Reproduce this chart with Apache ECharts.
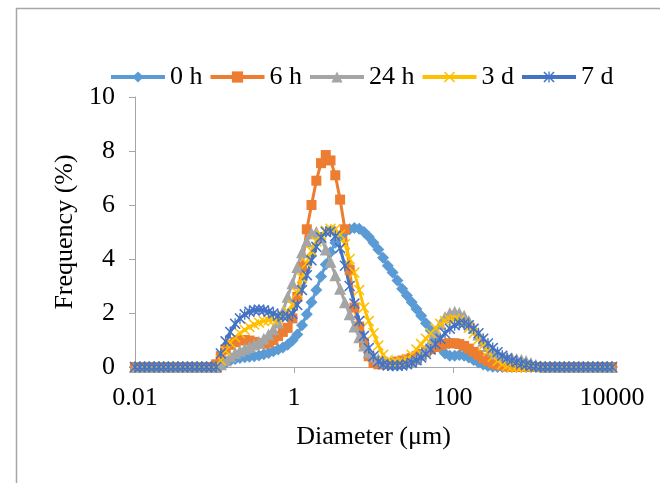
<!DOCTYPE html>
<html><head><meta charset="utf-8">
<script src="https://cdn.jsdelivr.net/npm/echarts@6/dist/echarts.min.js"></script>
<style>html,body{margin:0;padding:0;background:#fff}#c{width:660px;height:483px}</style>
</head><body><div id="c"></div>
<script>
// particle diameters (µm), 101 log-spaced size classes
const sizes = [
  0.01, 0.0115, 0.0132, 0.0151, 0.0174, 0.02, 0.0229, 0.0263, 0.0302, 0.0347,
  0.0398, 0.0457, 0.0525, 0.0603, 0.0692, 0.0794, 0.0912, 0.105, 0.12, 0.138,
  0.158, 0.182, 0.209, 0.24, 0.275, 0.316, 0.363, 0.417, 0.479, 0.55,
  0.631, 0.724, 0.832, 0.955, 1.1, 1.26, 1.45, 1.66, 1.91, 2.19,
  2.51, 2.88, 3.31, 3.8, 4.37, 5.01, 5.75, 6.61, 7.59, 8.71,
  10, 11.5, 13.2, 15.1, 17.4, 20, 22.9, 26.3, 30.2, 34.7,
  39.8, 45.7, 52.5, 60.3, 69.2, 79.4, 91.2, 105, 120, 138,
  158, 182, 209, 240, 275, 316, 363, 417, 479, 550,
  631, 724, 832, 955, 1100, 1260, 1450, 1660, 1910, 2190,
  2510, 2880, 3310, 3800, 4370, 5010, 5750, 6610, 7590, 8710,
  10000
];
const seriesNames = ['0 h', '6 h', '24 h', '3 d', '7 d'];
const s0h = [
  0,0,0,0,0,0,0,0,0,0,
  0,0,0,0,0,0,0,0,0.05,0.15,
  0.24,0.3,0.33,0.36,0.38,0.4,0.43,0.47,0.52,0.58,
  0.65,0.72,0.82,0.98,1.2,1.55,1.95,2.4,2.85,3.35,
  3.8,4.25,4.6,4.85,5.0,5.1,5.15,5.12,5.0,4.82,
  4.6,4.35,4.05,3.75,3.5,3.2,2.9,2.65,2.4,2.15,
  1.9,1.62,1.35,1.0,0.7,0.5,0.42,0.42,0.44,0.42,
  0.35,0.26,0.17,0.09,0.04,0.01,0,0,0,0,
  0,0,0,0,0,0,0,0,0,0,
  0,0,0,0,0,0,0,0,0,0,
  0
];
const s6h = [
  0,0,0,0,0,0,0,0,0,0,
  0,0,0,0,0,0,0,0.1,0.4,0.65,
  0.82,0.92,0.98,1.0,0.98,0.93,0.88,0.86,0.9,1.0,
  1.15,1.3,1.45,1.8,2.6,3.7,5.1,6.0,6.9,7.55,
  7.85,7.65,7.1,6.2,5.1,3.6,2.2,1.5,0.9,0.4,
  0.15,0.1,0.1,0.12,0.15,0.2,0.24,0.28,0.33,0.4,
  0.48,0.57,0.66,0.74,0.81,0.86,0.88,0.88,0.85,0.78,
  0.68,0.56,0.44,0.32,0.22,0.14,0.08,0.04,0.02,0,
  0,0,0,0,0,0,0,0,0,0,
  0,0,0,0,0,0,0,0,0,0,
  0
];
const s24h = [
  0,0,0,0,0,0,0,0,0,0,
  0,0,0,0,0,0,0,0,0.1,0.25,
  0.4,0.52,0.6,0.68,0.75,0.83,0.93,1.05,1.2,1.4,
  1.65,2.05,2.6,3.1,3.7,4.25,4.65,4.95,5.0,4.8,
  4.35,3.9,3.4,2.9,2.4,1.95,1.5,1.1,0.8,0.55,
  0.4,0.3,0.22,0.18,0.16,0.15,0.16,0.18,0.22,0.3,
  0.45,0.68,0.95,1.3,1.6,1.85,2.0,2.05,2.0,1.9,
  1.7,1.45,1.2,0.97,0.78,0.6,0.48,0.4,0.35,0.32,
  0.3,0.27,0.22,0.15,0.08,0.03,0,0,0,0,
  0,0,0,0,0,0,0,0,0,0,
  0
];
const s3d = [
  0,0,0,0,0,0,0,0,0,0,
  0,0,0,0,0,0,0,0,0.25,0.6,
  0.9,1.1,1.25,1.38,1.48,1.57,1.64,1.7,1.73,1.75,
  1.8,1.9,2.05,2.3,2.75,3.3,3.85,4.3,4.65,4.9,
  5.05,5.12,5.1,4.9,4.55,4.0,3.5,2.85,2.2,1.7,
  1.25,0.8,0.45,0.25,0.15,0.15,0.2,0.3,0.45,0.65,
  0.85,1.05,1.25,1.45,1.6,1.7,1.75,1.77,1.73,1.62,
  1.45,1.25,1.02,0.8,0.58,0.38,0.22,0.1,0.04,0,
  0,0,0,0,0,0,0,0,0,0,
  0,0,0,0,0,0,0,0,0,0,
  0
];
const s7d = [
  0,0,0,0,0,0,0,0,0,0,
  0,0,0,0,0,0,0,0,0.5,0.95,
  1.3,1.6,1.8,1.95,2.05,2.1,2.12,2.1,2.05,1.98,
  1.9,1.87,1.88,1.97,2.3,2.85,3.4,3.95,4.45,4.8,
  5.0,5.02,4.85,4.4,3.75,3.0,2.35,1.7,1.15,0.7,
  0.4,0.2,0.1,0.06,0.05,0.05,0.06,0.1,0.16,0.25,
  0.35,0.48,0.65,0.85,1.05,1.25,1.42,1.55,1.62,1.62,
  1.55,1.42,1.25,1.05,0.87,0.7,0.55,0.42,0.32,0.24,
  0.18,0.12,0.08,0.04,0.02,0,0,0,0,0,
  0,0,0,0,0,0,0,0,0,0,
  0
];
const seriesValues = [s0h, s6h, s24h, s3d, s7d];

const FONT = 'Liberation Serif';
const colors = ['#5B9BD5', '#ED7D31', '#A5A5A5', '#FFC000', '#4472C4'];
const X_PATH = 'path://M0,1L1,0L5,4L9,0L10,1L6,5L10,9L9,10L5,6L1,10L0,9L4,5Z';
const STAR_PATH = 'path://M0,1L1,0L5,4L9,0L10,1L6,5L10,9L9,10L5,6L1,10L0,9L4,5Z M4.4,0L5.6,0L5.6,10L4.4,10Z';
const symbols = ['diamond', 'rect', 'triangle', X_PATH, STAR_PATH];
const symbolSizes = [12, 10, 12, 11, 11];
const axisGray = '#A6A6A6';

const chart = echarts.init(document.getElementById('c'), null, {renderer: 'canvas'});
chart.setOption({
  animation: false,
  backgroundColor: '#fff',
  color: colors,
  graphic: [{
    type: 'rect', left: 14, top: 6, silent: true, z: -10,
    shape: {width: 700, height: 600},
    style: {fill: 'none', stroke: axisGray, lineWidth: 1.5}
  }],
  legend: {
    left: 104, top: 59,
    itemWidth: 54, itemHeight: 14, itemGap: 6,
    lineStyle: {width: 4},
    textStyle: {fontFamily: FONT, fontSize: 26, color: '#000'},
    data: seriesNames
  },
  grid: {left: 135, right: 48, top: 97, bottom: 116},
  xAxis: {
    type: 'log', logBase: 10, min: 0.01, max: 10000, interval: 2,
    splitLine: {show: false},
    axisLine: {show: true, onZero: false, lineStyle: {color: axisGray, width: 1}},
    axisTick: {show: true, length: 6, lineStyle: {color: axisGray}},
    axisLabel: {fontFamily: FONT, fontSize: 26, color: '#000', margin: 18,
      formatter: v => String(+(+v).toPrecision(6))},
    name: 'Diameter (μm)', nameLocation: 'middle', nameGap: 57,
    nameTextStyle: {fontFamily: FONT, fontSize: 26, color: '#000'}
  },
  yAxis: {
    type: 'value', min: 0, max: 10, interval: 2,
    splitLine: {show: false},
    axisLine: {show: true, lineStyle: {color: axisGray, width: 1}},
    axisTick: {show: true, length: 6, lineStyle: {color: axisGray}},
    axisLabel: {fontFamily: FONT, fontSize: 26, color: '#000', margin: 20},
    name: 'Frequency (%)', nameLocation: 'middle', nameGap: 55,
    nameTextStyle: {fontFamily: FONT, fontSize: 26, color: '#000'}
  },
  series: seriesNames.map((name, k) => ({
    name, type: 'line',
    data: sizes.map((d, i) => [d, seriesValues[k][i]]),
    symbol: symbols[k], symbolSize: symbolSizes[k], showAllSymbol: true,
    lineStyle: {width: 3, color: colors[k]},
    itemStyle: {color: colors[k]},
    emphasis: {disabled: true}
  }))
});
</script></body></html>
